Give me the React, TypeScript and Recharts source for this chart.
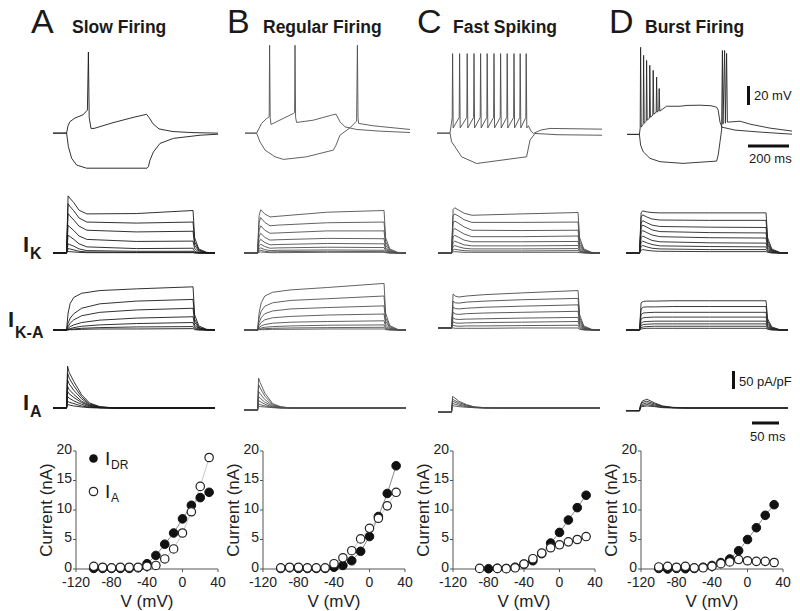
import { LineChart, Line, XAxis, YAxis, ComposedChart } from "recharts";

type Pt = [number, number];

const FONT = "Arial, 'Liberation Sans', Helvetica, sans-serif";

// ---- current-clamp recordings: [time ms, membrane potential mV] ----
const slowDep: Pt[] = [[0,-65],[68,-65],[75,-58],[85,-54],[110,-50.5],[150,-47.5],[172,-43],[177,12.5],[181,-50],[190,-60.5],[205,-60.5],[300,-55],[400,-50],[468,-47],[480,-50],[500,-56],[530,-61],[600,-63.5],[700,-64.5],[825,-65]];
const slowHyp: Pt[] = [[0,-65],[68,-65],[77,-78],[93,-89],[118,-95.5],[168,-98.5],[470,-98.5],[477,-97],[485,-90.8],[502,-83],[535,-74.8],[602,-70],[735,-67],[825,-66]];
const regDep: Pt[] = [[0,-65],[58,-65],[83,-55.7],[108,-51],[121,-49.4],[123,19],[126,-50],[130,-56.7],[242,-46.2],[248,-45.5],[250,19],[253,-50],[258,-54.8],[342,-52.6],[433,-47.8],[455,-46.8],[475,-54.2],[500,-59],[558,-61.5],[675,-63.1],[825,-64.4]];
const regHyp: Pt[] = [[0,-65],[58,-65],[75,-73.3],[100,-81.2],[150,-87.6],[192,-90.1],[308,-87.6],[442,-81.2],[455,-76.5],[475,-66.9],[525,-59.9],[558,-53.5],[562,19],[565,-50],[568,-55.7],[642,-58],[825,-61.5]];
const fastDep: Pt[] = [[0,-65],[65,-65],[72,-56],[76,-50],[78,11],[81,-60],[111,-50],[113,11],[116,-60],[149,-50],[151,11],[154,-60],[183,-50],[185,11],[188,-60],[216,-50],[218,11],[221,-60],[249,-50],[251,11],[254,-60],[283,-50],[285,11],[288,-60],[316,-50],[318,11],[321,-60],[349,-50],[351,11],[354,-60],[383,-50],[385,11],[388,-60],[414,-50],[416,11],[419,-60],[444,-50],[446,11],[449,-60],[457,-58],[470,-63],[482,-65.3],[520,-62],[565,-60.5],[825,-61.2]];
const fastHyp: Pt[] = [[0,-65],[65,-65],[73,-73.3],[90,-78],[123,-87.6],[198,-94],[448,-87.6],[465,-71.7],[490,-65.3],[600,-66.5],[825,-67]];
const burstDep: Pt[] = [[0,-66.2],[62,-66.2],[66,-60],[68,17],[71,-59.3],[81,-56.4],[83,9.3],[86,-55.5],[96,-53.6],[98,4.5],[101,-52.6],[112,-50.7],[114,-0.2],[117,-49.8],[129,-47.9],[131,-5],[134,-46.9],[146,-45],[148,-11.4],[151,-45],[159,-43.1],[161,-22.4],[164,-44],[198,-39.3],[265,-39.3],[300,-38.5],[365,-38.3],[420,-38.8],[448,-40.2],[456,-43],[465,-54.5],[475,-59.3],[540,-62.1],[665,-64],[825,-66]];
const burstHyp: Pt[] = [[0,-66.2],[62,-66.2],[68,-76.4],[81,-82.8],[115,-89.1],[165,-92.3],[280,-93.9],[448,-91.7],[456,-86],[465,-73.3],[473,-62.1],[477,14],[480,-56.4],[488,14],[492,-55.5],[498,11.2],[502,-54.5],[565,-53.6],[615,-56.4],[715,-60.2],[825,-63]];

// ---- voltage-clamp families: sample times (ms) and one row per step (pA/pF) ----
const ikTimes = [0, 26, 29, 32, 40, 50, 65, 160, 269, 272, 280, 295, 311];
const ikSlow = [
  [0,0,168,162,148,126,115,116,125,45,12,2,0],
  [0,0,145,138,124,103,91,88,91,33,9,1,0],
  [0,0,116,110,97,79,67,62,64,23,6,1,0],
  [0,0,81,77,66,50,40,34,35,13,3,0,0],
  [0,0,52,49,40,27,18,13,14,5,1,0,0],
  [0,0,27,25,20,12,7,5,5,2,0,0,0],
  [0,0,13,12,9,5,3,2,2,1,0,0,0],
  [0,0,5,4,3,2,1,1,1,0,0,0,0],
];
const ikRegular = [
  [0,0,110,127,115,106,108,120,125,45,12,2,0],
  [0,0,90,104,90,80,82,89,91,33,9,1,0],
  [0,0,68,80,67,58,59,65,65,23,6,1,0],
  [0,0,48,58,46,38,39,43,42,15,4,0,0],
  [0,0,33,40,31,24,25,28,27,10,3,0,0],
  [0,0,21,26,19,14,15,17,16,6,2,0,0],
  [0,0,12,15,10,7,8,9,8,3,1,0,0],
  [0,0,6,8,5,3,4,5,4,2,0,0,0],
  [0,0,2,3,2,1,1,2,2,1,0,0,0],
];
const ikFast = [
  [0,0,128,133,126,117,111,115,119,45,12,2,0],
  [0,0,108,115,108,98,90,90,91,34,9,1,0],
  [0,0,88,94,87,77,67,66,67,25,7,1,0],
  [0,0,66,72,65,56,48,48,50,18,5,0,0],
  [0,0,47,52,46,38,33,33,34,13,3,0,0],
  [0,0,31,35,30,24,21,21,22,8,2,0,0],
  [0,0,19,22,18,14,12,12,13,5,1,0,0],
  [0,0,9,11,9,7,6,6,7,3,1,0,0],
  [0,0,3,4,3,2,2,2,2,1,0,0,0],
];
const ikBurst = [
  [0,0,118,124,121,119,118,118,118,45,12,2,0],
  [0,0,105,112,106,100,97,96,96,36,9,1,0],
  [0,0,88,95,89,82,78,76,75,28,7,1,0],
  [0,0,75,82,76,68,63,60,59,22,6,1,0],
  [0,0,60,66,60,53,48,45,44,17,4,0,0],
  [0,0,45,50,44,37,33,30,29,11,3,0,0],
  [0,0,31,35,30,25,21,19,18,7,2,0,0],
  [0,0,19,22,18,14,12,10,10,4,1,0,0],
  [0,0,8,10,8,6,5,4,4,2,0,0,0],
];

const ikaTimes = [0, 26, 29, 33, 40, 55, 90, 160, 269, 272, 280, 295, 311];
const ikaSlow = [
  [0,0,50,78,96,108,116,121,127,45,12,2,0],
  [0,0,20,35,48,64,77,85,90,32,8,1,0],
  [0,0,10,20,30,42,52,59,64,23,6,1,0],
  [0,0,5,10,15,22,29,35,39,14,4,0,0],
  [0,0,2,4,7,11,15,19,22,8,2,0,0],
  [0,0,1,2,3,5,7,9,10,4,1,0,0],
  [0,0,0,1,1,2,3,3,4,1,0,0,0],
];
const ikaRegular = [
  [0,0,50,80,100,111,118,125,137,50,13,2,0],
  [0,0,35,55,70,80,87,92,100,36,10,1,0],
  [0,0,22,36,48,56,62,66,71,26,7,1,0],
  [0,0,13,22,30,36,40,44,47,17,5,0,0],
  [0,0,7,12,16,20,23,25,27,10,3,0,0],
  [0,0,3,6,8,10,12,14,15,5,1,0,0],
  [0,0,2,3,4,5,6,7,8,3,1,0,0],
  [0,0,1,1,1,2,2,3,3,1,0,0,0],
];
const ikaFast = [
  [6,6,106,100,97,100,104,109,116,45,12,2,0],
  [6,6,85,80,79,82,85,89,93,36,9,1,0],
  [6,6,68,63,62,64,67,70,74,28,7,1,0],
  [6,6,52,47,46,48,50,52,55,21,5,1,0],
  [6,6,36,32,31,32,33,35,37,14,4,0,0],
  [6,6,24,21,20,21,22,23,25,10,2,0,0],
  [6,6,14,12,11,12,12,13,14,5,1,0,0],
  [6,6,6,5,5,5,5,6,6,2,0,0,0],
];
const ikaBurst = [
  [0,0,80,84,85,85,86,86,86,33,9,1,0],
  [0,0,62,67,68,68,69,69,69,26,7,1,0],
  [0,0,45,50,51,52,52,52,52,20,5,0,0],
  [0,0,32,36,37,38,38,38,38,14,4,0,0],
  [0,0,20,24,25,26,26,26,26,10,3,0,0],
  [0,0,13,16,17,18,18,18,18,7,2,0,0],
  [0,0,7,9,10,11,11,11,11,4,1,0,0],
  [0,0,3,4,5,5,5,5,5,2,0,0,0],
];

const iaTimes = [0, 26, 28, 31, 40, 55, 70, 90, 120, 311];
const iaSlow = [
  [0,0,123,105,78,39,15,4,0,0],
  [0,0,103,88,65,33,12,3,0,0],
  [0,0,83,71,52,27,10,2,0,0],
  [0,0,64,54,40,20,8,2,0,0],
  [0,0,49,42,31,16,6,1,0,0],
  [0,0,34,29,21,11,4,1,0,0],
  [0,0,20,17,13,6,2,1,0,0],
  [0,0,10,9,6,3,1,0,0,0],
];
const iaRegular = [
  [-6,-6,88,75,44,13,4,0,0,0],
  [-6,-6,69,59,35,10,3,0,0,0],
  [-6,-6,49,42,25,7,2,0,0,0],
  [-6,-6,34,29,17,5,1,0,0,0],
  [-6,-6,22,19,11,3,1,0,0,0],
  [-6,-6,12,10,6,2,0,0,0,0],
  [-6,-6,5,4,3,1,0,0,0,0],
];
const iaFast = [
  [-12,-12,34,31,20,10,3,1,0,0],
  [-12,-12,26,23,16,8,3,1,0,0],
  [-12,-12,20,18,12,6,2,0,0,0],
  [-12,-12,13,12,8,4,1,0,0,0],
  [-12,-12,7,6,4,2,1,0,0,0],
];
const iaBurst = [
  [-8,-8,10,20,26,15,6,2,0,0],
  [-8,-8,8,16,20,12,5,1,0,0],
  [-8,-8,6,11,15,9,4,1,0,0],
  [-8,-8,4,7,10,6,2,1,0,0],
  [-8,-8,2,4,6,4,1,0,0,0],
];

// ---- I-V curves: step potential (mV) and current (nA) ----
const ivVolts = [-100, -90, -80, -70, -60, -50, -40, -30, -20, -10, 0, 10, 20, 30];
const slowDR = [0.1, 0.1, 0.1, 0.1, 0.1, 0.2, 0.9, 2.3, 4.2, 6.1, 8.5, 10.8, 12.1, 13.0];
const slowA = [0.45, 0.3, 0.2, 0.3, 0.3, 0.3, 0.45, 0.6, 1.7, 3.4, 6.1, 9.7, 14.0, 18.9];
const regDR = [0.1, 0.2, 0.1, 0.1, 0.1, 0.1, 0.3, 0.6, 1.4, 3.0, 5.5, 8.9, 12.8, 17.5];
const regA = [0.2, 0.3, 0.3, 0.2, 0.2, 0.2, 0.9, 1.9, 3.1, 5.1, 6.9, 8.6, 10.7, 13.0];
const fastDRVolts = [-80, -70, -60, -50, -40, -30, -20, -10, 0, 10, 20, 30];
const fastDR = [0.05, 0.1, 0.1, 0.3, 0.8, 1.4, 2.6, 4.4, 6.2, 8.3, 10.4, 12.5];
const fastAVolts = [-90, -70, -60, -50, -40, -30, -20, -10, 0, 10, 20, 30];
const fastA = [0.1, 0.1, 0.05, 0.2, 0.85, 1.75, 2.7, 3.6, 4.1, 4.6, 5.0, 5.5];
const burstDR = [0.1, 0.0, 0.1, 0.05, 0.1, 0.3, 0.6, 1.1, 1.7, 3.1, 5.0, 7.0, 9.1, 10.9];
const burstA = [0.35, 0.45, 0.3, 0.45, 0.2, 0.2, 0.45, 0.9, 1.2, 1.6, 1.4, 1.3, 1.3, 1.1];

const vTicks = [-120, -80, -40, 0, 40];
const iTicks = [0, 5, 10, 15, 20];

const toRows = (pts: Pt[]) => pts.map(([t, v]) => ({ t, v }));
const zipRows = (times: number[], vals: number[]) => times.map((t, i) => ({ t, v: vals[i] }));
const ivRows = (volts: number[], amps: number[]) => volts.map((x, i) => ({ x, y: amps[i] }));

// pixel geometry of the figure grid
const VOLT_DOMAIN: [number, number] = [-105, 24];
const CUR_DOMAIN: [number, number] = [-10 / 0.34, 70 / 0.34];

function TracePanel({ traces, left, top, width, height, xMax, yDomain, color }: {
  traces: { t: number; v: number }[][];
  left: number; top: number; width: number; height: number;
  xMax: number; yDomain: [number, number]; color: string;
}) {
  return (
    <div style={{ position: "absolute", left, top }}>
      <LineChart width={width} height={height} margin={{ top: 0, right: 0, bottom: 0, left: 0 }}>
        <XAxis dataKey="t" type="number" domain={[0, xMax]} hide allowDataOverflow />
        <YAxis type="number" domain={yDomain} hide allowDataOverflow />
        {traces.map((d, i) => (
          <Line
            key={i}
            data={d}
            dataKey="v"
            type="linear"
            stroke={color}
            strokeWidth={0.9}
            dot={false}
            activeDot={false}
            isAnimationActive={false}
          />
        ))}
      </LineChart>
    </div>
  );
}

function IVPanel({ plotLeft, dr, a }: {
  plotLeft: number;
  dr: { x: number; y: number }[];
  a: { x: number; y: number }[];
}) {
  const tick = { fontSize: 14, fill: "#222", fontFamily: FONT };
  return (
    <div style={{ position: "absolute", left: plotLeft - 50, top: 435 }}>
      <ComposedChart width={204} height={178} margin={{ top: 16, right: 12, bottom: 0, left: 0 }}>
        <XAxis
          dataKey="x"
          type="number"
          domain={[-120, 40]}
          ticks={vTicks}
          height={44}
          tick={tick}
          tickSize={3}
          tickMargin={5}
          axisLine={{ stroke: "#555" }}
          tickLine={{ stroke: "#555" }}
          interval={0}
          label={{ value: "V (mV)", position: "insideBottom", offset: 6, fontSize: 17, fill: "#222", fontFamily: FONT }}
        />
        <YAxis
          type="number"
          domain={[0, 20]}
          ticks={iTicks}
          width={50}
          tick={{ ...tick, dy: -2 }}
          tickSize={3}
          tickMargin={1}
          axisLine={{ stroke: "#555" }}
          tickLine={{ stroke: "#555" }}
          interval={0}
          label={{ value: "Current (nA)", angle: -90, position: "insideLeft", offset: 20, fontSize: 17, fill: "#222", fontFamily: FONT, style: { textAnchor: "middle" } }}
        />
        <Line data={dr} dataKey="y" stroke="#8a8a8a" strokeWidth={1} dot={false} activeDot={false} isAnimationActive={false} />
        <Line data={a} dataKey="y" stroke="#c8c8c8" strokeWidth={1} dot={false} activeDot={false} isAnimationActive={false} />
        <Line data={dr} dataKey="y" stroke="none" dot={{ r: 4.3, fill: "#111", stroke: "#111", strokeWidth: 1 }} activeDot={false} isAnimationActive={false} />
        <Line data={a} dataKey="y" stroke="none" dot={{ r: 4.2, fill: "#fff", stroke: "#222", strokeWidth: 1.2 }} activeDot={false} isAnimationActive={false} />
      </ComposedChart>
    </div>
  );
}

const columns = [
  { letter: "A", letterX: 31, title: "Slow Firing", titleX: 72, vLeft: 53, iLeft: 53, ivLeft: 76, color: "#1a1a1a",
    dep: slowDep, hyp: slowHyp, ik: ikSlow, ika: ikaSlow, ia: iaSlow, dr: ivRows(ivVolts, slowDR), a: ivRows(ivVolts, slowA) },
  { letter: "B", letterX: 227, title: "Regular Firing", titleX: 263, vLeft: 245, iLeft: 244, ivLeft: 263, color: "#505050",
    dep: regDep, hyp: regHyp, ik: ikRegular, ika: ikaRegular, ia: iaRegular, dr: ivRows(ivVolts, regDR), a: ivRows(ivVolts, regA) },
  { letter: "C", letterX: 417, title: "Fast Spiking", titleX: 453, vLeft: 437, iLeft: 438, ivLeft: 453, color: "#4a4a4a",
    dep: fastDep, hyp: fastHyp, ik: ikFast, ika: ikaFast, ia: iaFast, dr: ivRows(fastDRVolts, fastDR), a: ivRows(fastAVolts, fastA) },
  { letter: "D", letterX: 609, title: "Burst Firing", titleX: 645, vLeft: 627, iLeft: 626, ivLeft: 641, color: "#262626",
    dep: burstDep, hyp: burstHyp, ik: ikBurst, ika: ikaBurst, ia: iaBurst, dr: ivRows(ivVolts, burstDR), a: ivRows(ivVolts, burstA) },
];

export default function App() {
  const txt = { fontFamily: FONT, fill: "#1a1a1a" };
  return (
    <div style={{ position: "absolute", left: 0, top: 0, width: 800, height: 611, background: "#fff", overflow: "hidden" }}>
      {columns.map((c) => (
        <div key={c.letter}>
          <TracePanel traces={[toRows(c.dep), toRows(c.hyp)]} left={c.vLeft} top={40} width={165} height={135} xMax={825} yDomain={VOLT_DOMAIN} color={c.color} />
          <TracePanel traces={c.ik.map((r) => zipRows(ikTimes, r))} left={c.iLeft} top={183} width={164} height={80} xMax={315} yDomain={CUR_DOMAIN} color={c.color} />
          <TracePanel traces={c.ika.map((r) => zipRows(ikaTimes, r))} left={c.iLeft} top={260} width={164} height={80} xMax={315} yDomain={CUR_DOMAIN} color={c.color} />
          <TracePanel traces={c.ia.map((r) => zipRows(iaTimes, r))} left={c.iLeft} top={338} width={164} height={80} xMax={315} yDomain={CUR_DOMAIN} color={c.color} />
          <IVPanel plotLeft={c.ivLeft} dr={c.dr} a={c.a} />
        </div>
      ))}
      <svg width={800} height={611} style={{ position: "absolute", left: 0, top: 0, pointerEvents: "none" }}>
        {columns.map((c) => (
          <g key={c.letter}>
            <text x={c.letterX} y={33} fontSize={34} {...txt}>{c.letter}</text>
            <text x={c.titleX} y={32.5} fontSize={17.5} fontWeight="bold" {...txt}>{c.title}</text>
          </g>
        ))}
        <text x={23} y={252} fontSize={22} fontWeight="bold" {...txt}>I</text>
        <text x={30} y={258.5} fontSize={16} fontWeight="bold" {...txt}>K</text>
        <text x={8} y={327} fontSize={22} fontWeight="bold" {...txt}>I</text>
        <text x={15} y={338} fontSize={16} fontWeight="bold" {...txt}>K-A</text>
        <text x={23} y={410} fontSize={22} fontWeight="bold" {...txt}>I</text>
        <text x={30} y={417} fontSize={16} fontWeight="bold" {...txt}>A</text>

        <rect x={747} y={86} width={3} height={19} fill="#111" />
        <text x={754} y={100} fontSize={13} {...txt}>20 mV</text>
        <rect x={748} y={144.5} width={41} height={3} fill="#111" />
        <text x={749} y={163} fontSize={13} {...txt}>200 ms</text>
        <rect x={732} y={371} width={3} height={18} fill="#111" />
        <text x={739} y={386} fontSize={13} {...txt}>50 pA/pF</text>
        <rect x={752} y={421.5} width={27} height={3} fill="#111" />
        <text x={750} y={441} fontSize={13} {...txt}>50 ms</text>

        <circle cx={93.5} cy={458.5} r={4.3} fill="#111" />
        <text x={105} y={465} fontSize={19} {...txt}>I</text>
        <text x={111} y={469} fontSize={12} {...txt}>DR</text>
        <circle cx={93.5} cy={491.5} r={4.2} fill="#fff" stroke="#222" strokeWidth={1.2} />
        <text x={105} y={498} fontSize={19} {...txt}>I</text>
        <text x={111} y={502} fontSize={12} {...txt}>A</text>
      </svg>
    </div>
  );
}
